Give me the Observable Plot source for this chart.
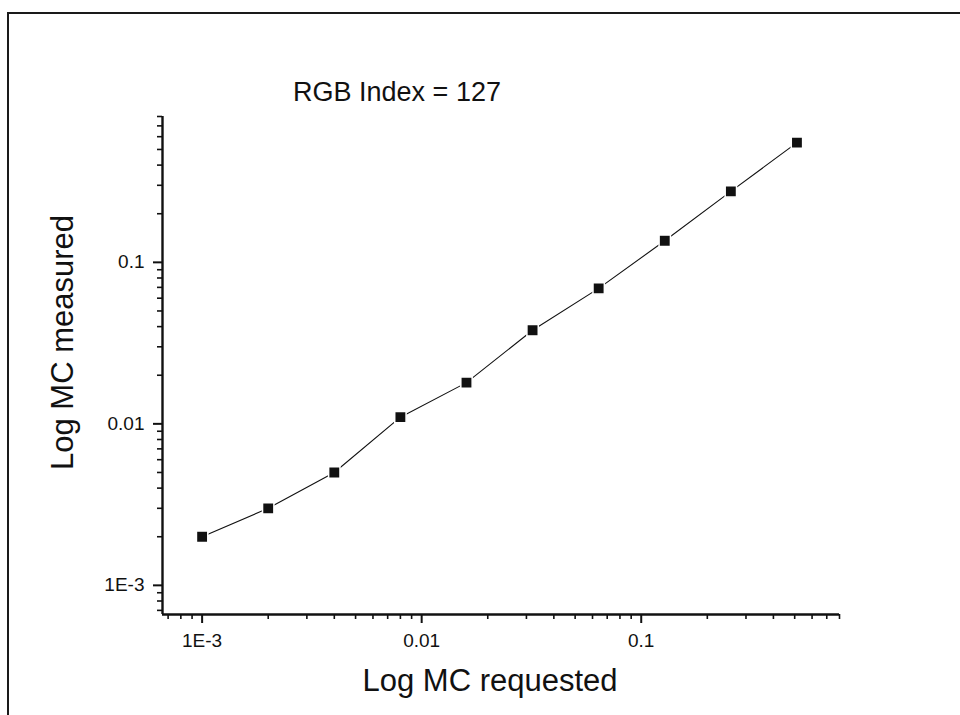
<!DOCTYPE html>
<html>
<head>
<meta charset="utf-8">
<script src="https://cdn.jsdelivr.net/npm/d3@7"></script>
<script src="https://cdn.jsdelivr.net/npm/@observablehq/plot@0.6"></script>
<style>
  html, body { margin: 0; padding: 0; background: #fff; }
  #wrap { position: relative; width: 960px; height: 715px; overflow: hidden; }
  #frame { position: absolute; left: 7px; top: 12px; right: -4px; bottom: -4px;
           border-top: 2px solid #1a1a1a; border-left: 2px solid #1a1a1a; pointer-events: none; }
</style>
</head>
<body>
<div id="wrap"><div id="chart"></div><div id="frame"></div></div>
<script>
// ---- data ----
const requested = [0.001, 0.002, 0.004, 0.008, 0.016, 0.032, 0.064, 0.128, 0.256, 0.512];
const measured  = [0.002, 0.003, 0.005, 0.011, 0.018, 0.038, 0.069, 0.136, 0.275, 0.551];

const xDomain = [6.6e-4, 0.8];
const yDomain = [6.6e-4, 0.8];

const majorTicks  = [0.001, 0.01, 0.1];
const majorLabels = ["1E-3", "0.01", "0.1"];
const minorTicks  = [7e-4, 8e-4, 9e-4,
                     0.002, 0.003, 0.004, 0.005, 0.006, 0.007, 0.008, 0.009,
                     0.02, 0.03, 0.04, 0.05, 0.06, 0.07, 0.08, 0.09,
                     0.2, 0.3, 0.4, 0.5, 0.6, 0.7, 0.8];

const titleText  = "RGB Index = 127";
const xLabelText = "Log MC requested";
const yLabelText = "Log MC measured";

const data = requested.map((r, i) => ({requested: r, measured: measured[i]}));
const fmt = d => majorLabels[majorTicks.indexOf(d)];
const ink = "#111";

const chart = Plot.plot({
  width: 960,
  height: 715,
  marginLeft: 162,
  marginRight: 121,
  marginTop: 116,
  marginBottom: 101,
  x: {type: "log", domain: xDomain},
  y: {type: "log", domain: yDomain},
  style: {fontFamily: "'Liberation Sans', Arial, Helvetica, sans-serif", fontSize: "19px", color: ink, background: "transparent"},
  marks: [
    Plot.axisX(minorTicks, {tickSize: 5, tickFormat: () => "", label: null, strokeWidth: 1.6, stroke: ink}),
    Plot.axisX(majorTicks, {tickSize: 9, tickPadding: 10, tickFormat: fmt, label: null, fontSize: 19, strokeWidth: 2, stroke: ink, fill: ink}),
    Plot.axisY(minorTicks, {tickSize: 5, tickFormat: () => "", label: null, strokeWidth: 1.6, stroke: ink}),
    Plot.axisY(majorTicks, {tickSize: 9, tickPadding: 9, tickFormat: fmt, label: null, fontSize: 19, strokeWidth: 2, stroke: ink, fill: ink}),
    Plot.ruleY([yDomain[0]], {stroke: ink, strokeWidth: 2.4}),
    Plot.ruleX([xDomain[0]], {stroke: ink, strokeWidth: 2.4}),
    Plot.line(data, {x: "requested", y: "measured", stroke: ink, strokeWidth: 1.1}),
    Plot.dot(data, {x: "requested", y: "measured", symbol: "square", r: 6.4, fill: ink, stroke: "white", strokeWidth: 1.5}),
    Plot.text([titleText], {frameAnchor: "top", textAnchor: "middle", lineAnchor: "bottom", dx: -104, dy: -16, fontSize: 27, fill: ink}),
    Plot.text([xLabelText], {frameAnchor: "bottom", textAnchor: "middle", lineAnchor: "bottom", dx: -11, dy: 76, fontSize: 31, fill: ink}),
    Plot.text([yLabelText], {frameAnchor: "left", textAnchor: "middle", lineAnchor: "bottom", rotate: -90, dx: -90, dy: -23, fontSize: 31, fill: ink})
  ]
});
d3.select(chart).selectAll("text")
  .filter(function () { return majorLabels.includes(this.textContent); })
  .style("font-size", "19px");
document.getElementById("chart").appendChild(chart);
</script>
</body>
</html>
